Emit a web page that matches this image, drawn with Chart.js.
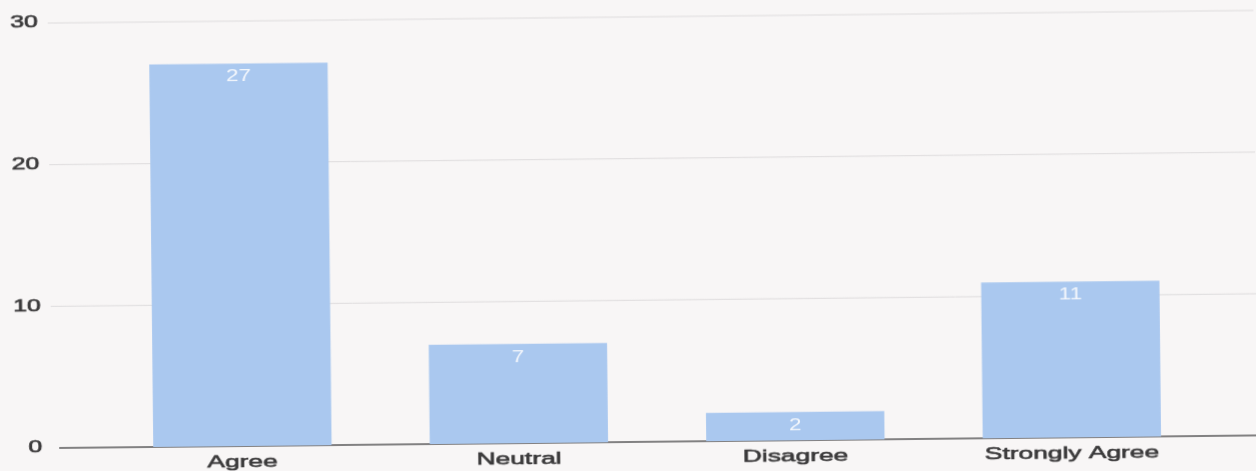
<!DOCTYPE html>
<html>
<head>
<meta charset="utf-8">
<script src="https://cdn.jsdelivr.net/npm/chart.js@4"></script>
<style>
  html, body { margin: 0; padding: 0; background: #f8f6f6; overflow: hidden; }
  /* the reference is a slightly tilted photo of a printout */
  canvas { display: block; transform: rotate(-0.6deg); transform-origin: 628px 235px; }
</style>
</head>
<body>
<canvas id="surveyChart" width="1256" height="471"></canvas>
<script>
const categories = ['Agree', 'Neutral', 'Disagree', 'Strongly Agree'];
const counts = [27, 7, 2, 11];
const yTicks = [0, 10, 20, 30];

const FONT = '"Liberation Sans", Arial, sans-serif';
const TEXT = '#3b3a3b';

// the printed text is stretched sideways, so draw it with a horizontal scale
function wideText(ctx, text, x, y, size, sx, align, color, heavy) {
  ctx.save();
  ctx.translate(x, y);
  ctx.scale(sx, 1);
  ctx.font = size + 'px ' + FONT;
  ctx.fillStyle = color;
  ctx.textAlign = align;
  ctx.textBaseline = 'middle';
  ctx.fillText(text, 0, 0);
  if (heavy) {
    ctx.strokeStyle = color;
    ctx.lineWidth = 0.6;
    ctx.strokeText(text, 0, 0);
  }
  ctx.restore();
}

// long grid lines + baseline that run past the plot area, like the original
const wideGrid = {
  id: 'wideGrid',
  beforeDatasetsDraw(chart) {
    const ctx = chart.ctx;
    const y = chart.scales.y;
    ctx.save();
    yTicks.forEach(function(t){
      const py = y.getPixelForValue(t);
      ctx.beginPath();
      if (t === 0) {
        ctx.strokeStyle = '#5b5a5b';
        ctx.lineWidth = 1.5;
        ctx.moveTo(57, py);
      } else {
        ctx.strokeStyle = '#dedcdd';
        ctx.lineWidth = 1;
        ctx.moveTo(50, py);
      }
      ctx.lineTo(chart.width, py);
      ctx.stroke();
    });
    ctx.restore();
  }
};

// axis labels and white value labels inside the bars
const labels = {
  id: 'labels',
  afterDatasetsDraw(chart) {
    const ctx = chart.ctx;
    const x = chart.scales.x;
    const y = chart.scales.y;
    yTicks.forEach(function(t){
      wideText(ctx, String(t), 40, y.getPixelForValue(t), 16, 1.55, 'right', TEXT, true);
    });
    categories.forEach(function(c, i){
      wideText(ctx, c, x.getPixelForValue(i), y.bottom + 16, 17, 1.55, 'center', TEXT, true);
    });
    const meta = chart.getDatasetMeta(0);
    meta.data.forEach(function(bar, i){
      wideText(ctx, String(counts[i]), bar.x, bar.y + 13.5, 16, 1.4, 'center', '#f4f7fc', false);
    });
  }
};

new Chart(document.getElementById('surveyChart'), {
  type: 'bar',
  data: {
    labels: categories,
    datasets: [{
      data: counts,
      backgroundColor: '#aac8ef',
      borderWidth: 0,
      categoryPercentage: 0.645,
      barPercentage: 1.0
    }]
  },
  options: {
    responsive: false,
    animation: false,
    layout: { padding: { top: 17, right: 48, left: 0, bottom: 0 } },
    plugins: {
      legend: { display: false },
      tooltip: { enabled: false }
    },
    scales: {
      x: {
        grid: { display: false, drawTicks: false },
        border: { display: false },
        ticks: { display: false },
        afterFit(scale) { scale.height = 29; }
      },
      y: {
        min: 0,
        max: 30,
        grid: { display: false, drawTicks: false },
        border: { display: false },
        ticks: { display: false, stepSize: 10 },
        afterFit(scale) { scale.width = 102; }
      }
    }
  },
  plugins: [wideGrid, labels]
});
</script>
</body>
</html>
